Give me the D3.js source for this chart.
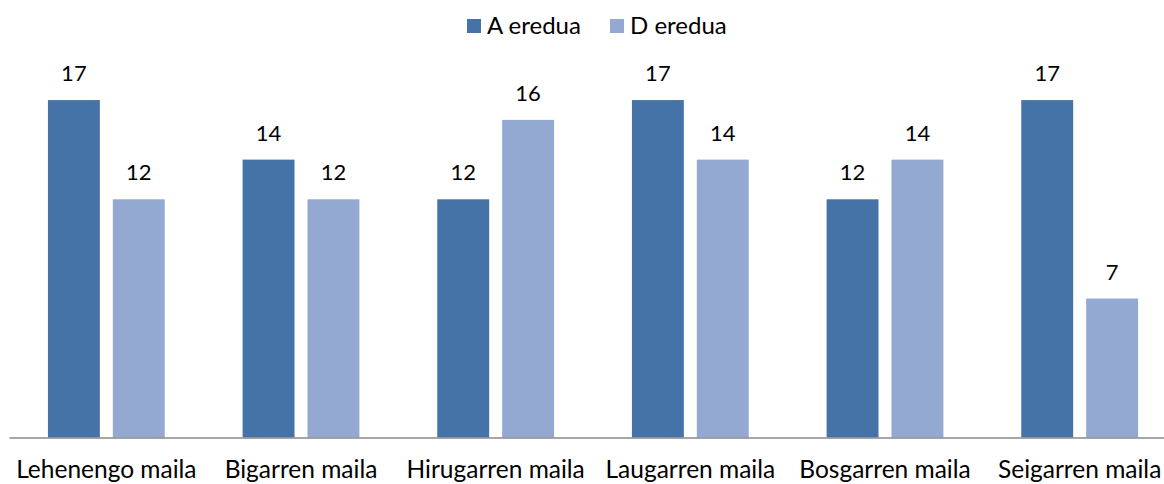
<!DOCTYPE html>
<html>
<head>
<meta charset="utf-8">
<script src="https://cdn.jsdelivr.net/npm/d3@7"></script>
<style>
  body { margin: 0; background: #fff; }
  svg { display: block; font-family: Lato, "Open Sans", sans-serif; }
</style>
</head>
<body>
<div id="chart"></div>
<script>
"use strict";

const categories = ["Lehenengo maila", "Bigarren maila", "Hirugarren maila", "Laugarren maila", "Bosgarren maila", "Seigarren maila"];
const seriesNames = ["A eredua", "D eredua"];
const valuesA = [17, 14, 12, 17, 12, 17];
const valuesD = [12, 12, 16, 14, 14, 7];
const colors = ["#4573a7", "#94a9d1"];

const width = 1164, height = 484;

const svg = d3.select("#chart")
    .append("svg")
    .attr("width", width)
    .attr("height", height);

// the plot area runs a little past the right edge, as in the picture
const x0 = d3.scaleBand()
    .domain(categories)
    .range([9, 1177])
    .paddingInner(0.4)
    .paddingOuter(0.2);

const x1 = d3.scaleBand()
    .domain(seriesNames)
    .range([0, x0.bandwidth()])
    .paddingInner(0.2);

const y = d3.scaleLinear()
    .domain([0, 20])
    .range([437.5, 40.5]);

const data = categories.map((c, i) => ({
    cat: c,
    vals: [{ s: seriesNames[0], v: valuesA[i] }, { s: seriesNames[1], v: valuesD[i] }]
}));

const groups = svg.selectAll(".grp")
    .data(data)
    .enter().append("g")
    .attr("class", "grp")
    .attr("transform", d => `translate(${x0(d.cat)},0)`);

groups.selectAll("rect")
    .data(d => d.vals)
    .enter().append("rect")
    .attr("x", d => x1(d.s))
    .attr("y", d => y(d.v))
    .attr("width", x1.bandwidth())
    .attr("height", d => y(0) - y(d.v))
    .attr("fill", (d, i) => colors[i]);

groups.selectAll(".val")
    .data(d => d.vals)
    .enter().append("text")
    .attr("class", "val")
    .attr("x", d => x1(d.s) + x1.bandwidth() / 2)
    .attr("y", d => y(d.v) - 19)
    .attr("text-anchor", "middle")
    .attr("font-size", 22)
    .attr("fill", "#000")
    .text(d => d.v);

// axe X
const xAxis = svg.append("g")
    .attr("transform", `translate(0,${y(0)})`)
    .call(d3.axisBottom(x0).tickSize(0).tickPadding(0));
xAxis.select(".domain").attr("stroke", "#888").attr("stroke-width", 1.5);
xAxis.selectAll("text")
    .attr("dy", null)
    .attr("y", 40)
    .attr("font-size", 24.5)
    .attr("fill", "#000")
    .attr("font-family", "Lato, Open Sans, sans-serif");

// legend
const legend = svg.append("g");
const legendX = [467, 610];
seriesNames.forEach((s, i) => {
    legend.append("rect")
        .attr("x", legendX[i])
        .attr("y", 19)
        .attr("width", 14)
        .attr("height", 14)
        .attr("fill", colors[i]);
    legend.append("text")
        .attr("x", legendX[i] + 20)
        .attr("y", 34)
        .attr("font-size", 24)
        .attr("fill", "#000")
        .text(s);
});
</script>
</body>
</html>
